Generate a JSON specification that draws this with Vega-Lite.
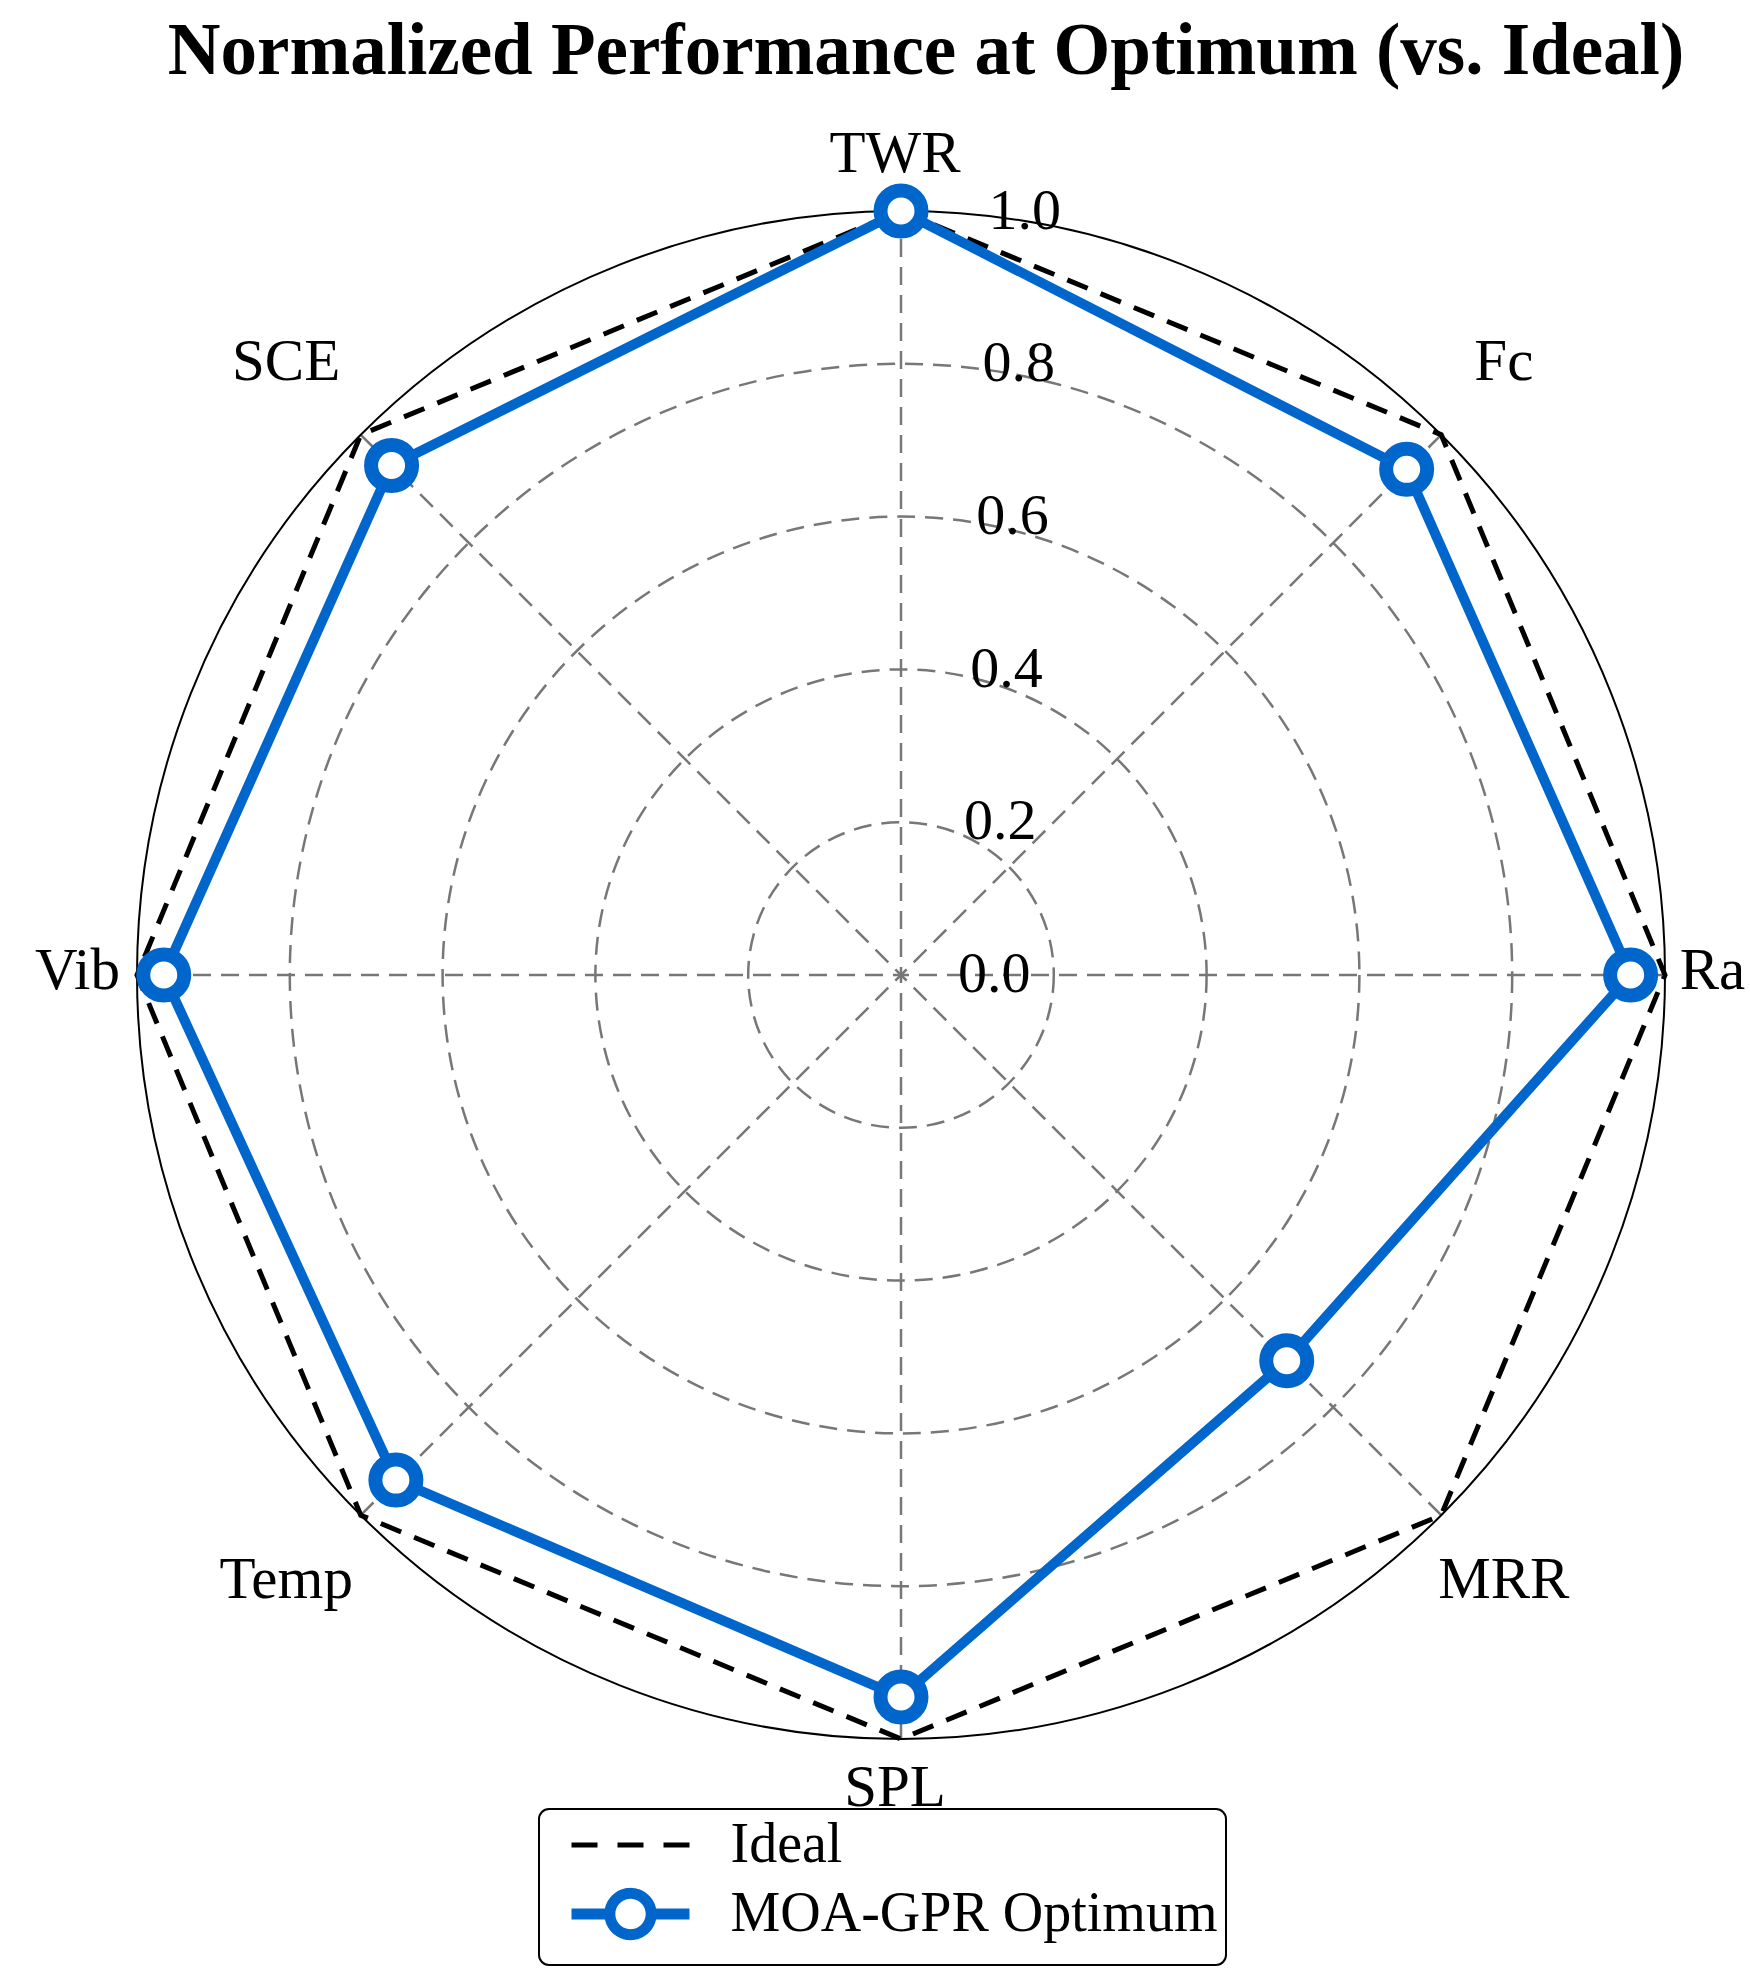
{
  "$schema": "https://vega.github.io/schema/vega-lite/v6.json",
  "width": 1528,
  "height": 1528,
  "autosize": {"type": "none"},
  "padding": {"left": 137, "top": 211, "right": 85, "bottom": 249},
  "background": "white",
  "config": {"view": {"stroke": null}, "font": "Liberation Serif"},
  "title": {
    "text": "Normalized Performance at Optimum (vs. Ideal)",
    "font": "Liberation Serif",
    "fontSize": 73,
    "fontWeight": "bold",
    "color": "black",
    "anchor": "middle",
    "frame": "group",
    "offset": 36,
    "dx": 25
  },
  "datasets": {
    "pts": [
      {"series": "Ideal", "axis": "TWR", "k": 0, "v": 1.0},
      {"series": "Ideal", "axis": "Fc", "k": 1, "v": 1.0},
      {"series": "Ideal", "axis": "Ra", "k": 2, "v": 1.0},
      {"series": "Ideal", "axis": "MRR", "k": 3, "v": 1.0},
      {"series": "Ideal", "axis": "SPL", "k": 4, "v": 1.0},
      {"series": "Ideal", "axis": "Temp", "k": 5, "v": 1.0},
      {"series": "Ideal", "axis": "Vib", "k": 6, "v": 1.0},
      {"series": "Ideal", "axis": "SCE", "k": 7, "v": 1.0},
      {"series": "MOA-GPR Optimum", "axis": "TWR", "k": 0, "v": 1.0},
      {"series": "MOA-GPR Optimum", "axis": "Fc", "k": 1, "v": 0.936},
      {"series": "MOA-GPR Optimum", "axis": "Ra", "k": 2, "v": 0.955},
      {"series": "MOA-GPR Optimum", "axis": "MRR", "k": 3, "v": 0.714},
      {"series": "MOA-GPR Optimum", "axis": "SPL", "k": 4, "v": 0.945},
      {"series": "MOA-GPR Optimum", "axis": "Temp", "k": 5, "v": 0.935},
      {"series": "MOA-GPR Optimum", "axis": "Vib", "k": 6, "v": 0.965},
      {"series": "MOA-GPR Optimum", "axis": "SCE", "k": 7, "v": 0.943}
    ],
    "rings": [{"r": 0.2}, {"r": 0.4}, {"r": 0.6}, {"r": 0.8}],
    "outer": [{"r": 1.0}],
    "ticks": [{"t": 0.0}, {"t": 0.2}, {"t": 0.4}, {"t": 0.6}, {"t": 0.8}, {"t": 1.0}]
  },
  "layer": [
    {
      "data": {"name": "rings"},
      "mark": {"type": "point", "shape": "circle", "filled": false, "stroke": "#777777", "strokeWidth": 2.5, "strokeDash": [18, 10], "opacity": 1},
      "encoding": {
        "x": {"datum": 0, "type": "quantitative", "scale": {"domain": [-1, 1], "nice": false, "zero": false}, "axis": null},
        "y": {"datum": 0, "type": "quantitative", "scale": {"domain": [-1, 1], "nice": false, "zero": false}, "axis": null},
        "size": {"field": "r", "type": "quantitative", "scale": {"type": "pow", "exponent": 2, "domain": [0, 1], "range": [0, 2334784]}, "legend": null}
      }
    },
    {
      "data": {"name": "pts"},
      "transform": [
        {"filter": "datum.series === 'Ideal'"},
        {"calculate": "datum.k * PI / 4", "as": "theta"},
        {"calculate": "sin(datum.theta)", "as": "sx"},
        {"calculate": "cos(datum.theta)", "as": "sy"}
      ],
      "mark": {"type": "rule", "stroke": "#777777", "strokeWidth": 2.5, "strokeDash": [18, 10]},
      "encoding": {
        "x": {"field": "sx", "type": "quantitative"},
        "y": {"field": "sy", "type": "quantitative"},
        "x2": {"datum": 0},
        "y2": {"datum": 0}
      }
    },
    {
      "data": {"name": "outer"},
      "mark": {"type": "point", "shape": "circle", "filled": false, "stroke": "black", "strokeWidth": 2, "opacity": 1},
      "encoding": {
        "x": {"datum": 0, "type": "quantitative"},
        "y": {"datum": 0, "type": "quantitative"},
        "size": {"field": "r", "type": "quantitative", "scale": {"type": "pow", "exponent": 2, "domain": [0, 1], "range": [0, 2334784]}, "legend": null}
      }
    },
    {
      "data": {"name": "ticks"},
      "transform": [
        {"calculate": "datum.t * sin(0.04)", "as": "tx"},
        {"calculate": "datum.t * cos(0.04)", "as": "ty"}
      ],
      "mark": {"type": "text", "align": "left", "baseline": "middle", "dx": 57, "font": "Liberation Serif", "fontSize": 58, "color": "black"},
      "encoding": {
        "x": {"field": "tx", "type": "quantitative"},
        "y": {"field": "ty", "type": "quantitative"},
        "text": {"field": "t", "type": "quantitative", "format": ".1f"}
      }
    },
    {
      "data": {"name": "pts"},
      "transform": [
        {"filter": "datum.series === 'Ideal'"},
        {"calculate": "datum.k * PI / 4", "as": "theta"},
        {"calculate": "datum.v * sin(datum.theta)", "as": "px"},
        {"calculate": "datum.v * cos(datum.theta)", "as": "py"}
      ],
      "mark": {"type": "line", "interpolate": "linear-closed", "strokeWidth": 5, "strokeDash": [22, 14]},
      "encoding": {
        "x": {"field": "px", "type": "quantitative"},
        "y": {"field": "py", "type": "quantitative"},
        "order": {"field": "k", "type": "quantitative"},
        "color": {
          "field": "series",
          "type": "nominal",
          "scale": {"domain": ["Ideal", "MOA-GPR Optimum"], "range": ["#000000", "#0066CC"]},
          "legend": {
            "orient": "none",
            "legendX": 402,
            "legendY": 1598,
            "title": null,
            "symbolType": "stroke",
            "symbolSize": 3481,
            "labelFont": "Liberation Serif",
            "labelFontSize": 56,
            "labelColor": "black",
            "labelLimit": 1000,
            "padding": 8,
            "strokeColor": "black",
            "fillColor": "white",
            "cornerRadius": 10,
            "symbolOffset": 55.5,
            "labelOffset": 72,
            "rowPadding": -2,
            "encode": {
              "legend": {"update": {"strokeWidth": {"value": 2}}},
              "symbols": {
                "update": {
                  "shape": {"signal": "datum.value === 'Ideal' ? 'M-2,0L2,0' : 'M-2,0L-0.7,0M0.7,0L2,0M0.7,0A0.7,0.7,0,1,1,-0.7,0A0.7,0.7,0,1,1,0.7,0'"},
                  "strokeDash": {"signal": "datum.value === 'Ideal' ? [26, 20] : [1, 0]"},
                  "strokeWidth": {"signal": "datum.value === 'Ideal' ? 5 : 11"},
                  "fill": {"value": "white"},
                  "opacity": {"value": 1}
                }
              }
            }
          }
        }
      }
    },
    {
      "data": {"name": "pts"},
      "transform": [
        {"filter": "datum.series === 'MOA-GPR Optimum'"},
        {"calculate": "datum.k * PI / 4", "as": "theta"},
        {"calculate": "datum.v * sin(datum.theta)", "as": "px"},
        {"calculate": "datum.v * cos(datum.theta)", "as": "py"}
      ],
      "mark": {"type": "line", "interpolate": "linear-closed", "strokeWidth": 10},
      "encoding": {
        "x": {"field": "px", "type": "quantitative"},
        "y": {"field": "py", "type": "quantitative"},
        "order": {"field": "k", "type": "quantitative"},
        "color": {"field": "series", "type": "nominal"}
      }
    },
    {
      "data": {"name": "pts"},
      "transform": [
        {"filter": "datum.series === 'MOA-GPR Optimum'"},
        {"calculate": "datum.k * PI / 4", "as": "theta"},
        {"calculate": "datum.v * sin(datum.theta)", "as": "px"},
        {"calculate": "datum.v * cos(datum.theta)", "as": "py"}
      ],
      "mark": {"type": "point", "shape": "circle", "filled": true, "fill": "white", "stroke": "#0066CC", "strokeWidth": 14, "size": 1681, "opacity": 1},
      "encoding": {
        "x": {"field": "px", "type": "quantitative"},
        "y": {"field": "py", "type": "quantitative"}
      }
    },
    {
      "data": {"name": "pts"},
      "transform": [
        {"filter": "datum.series === 'Ideal'"},
        {"calculate": "datum.k * PI / 4", "as": "theta"},
        {"calculate": "1.07 + 0.057 * abs(sin(2 * datum.theta))", "as": "lr"},
        {"calculate": "datum.lr * sin(datum.theta)", "as": "lx"},
        {"calculate": "datum.lr * cos(datum.theta)", "as": "ly"}
      ],
      "mark": {"type": "text", "align": "center", "baseline": "middle", "dx": -6, "dy": -4, "font": "Liberation Serif", "fontSize": 59, "color": "black"},
      "encoding": {
        "x": {"field": "lx", "type": "quantitative"},
        "y": {"field": "ly", "type": "quantitative"},
        "text": {"field": "axis", "type": "nominal"}
      }
    }
  ]
}
